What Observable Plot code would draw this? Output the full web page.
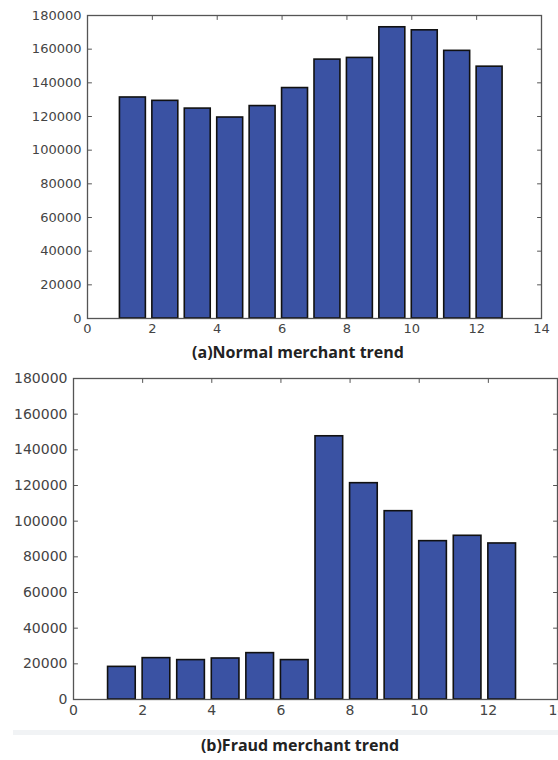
<!DOCTYPE html>
<html><head><meta charset="utf-8">
<script src="https://cdn.jsdelivr.net/npm/d3@7"></script>
<script src="https://cdn.jsdelivr.net/npm/@observablehq/plot@0.6"></script>
<style>
body{margin:0;background:#fff;width:558px;height:760px;overflow:hidden;position:relative;font-family:"DejaVu Sans",sans-serif}
#c1,#c2{position:absolute;left:0}
#c1{top:0px;width:558px}
#c2{top:360px;width:570px}
.cap{position:absolute;font-family:"Open Sans",Lato,sans-serif;font-weight:bold;font-size:16px;color:#222;white-space:nowrap;transform:translate(-50%,-50%)}
.band{position:absolute;left:13px;top:723px;width:545px;height:12px;background:#f1f3f5}
</style></head><body>
<div class="band"></div>
<div id="c1"></div>
<div id="c2"></div>
<div class="cap" style="left:298px;top:352px">(a)Normal merchant trend</div>
<div class="cap" style="left:300px;top:745px">(b)Fraud merchant trend</div>
<script>
const months = [1, 2, 3, 4, 5, 6, 7, 8, 9, 10, 11, 12];
const normalCounts = [131300, 129300, 124700, 119400, 126200, 136900, 153800, 154800, 173000, 171200, 159000, 149600];
const fraudCounts = [18300, 23200, 22100, 23000, 26000, 22100, 147600, 121300, 105600, 88800, 91800, 87500];
const xTicks = [0, 2, 4, 6, 8, 10, 12, 14];
const yTicks = [0, 20000, 40000, 60000, 80000, 100000, 120000, 140000, 160000, 180000];
const barWidth = 0.8;

const line = {draw(context, l) { context.moveTo(0, 0); context.lineTo(0, -l); }};

function chart(values, o) {
  const data = months.map((m, i) => ({m, v: values[i]}));
  const tk = {length: 4, anchor: "start", stroke: "#555", strokeWidth: 1, shape: line};
  return Plot.plot({
    width: o.width, height: o.height,
    marginLeft: o.ml, marginRight: o.mr, marginTop: o.mt, marginBottom: o.mb,
    style: {fontFamily: "DejaVu Sans, sans-serif", fontSize: o.fs + "px", color: "#444", background: "white", overflow: "visible", maxWidth: "none"},
    x: {domain: [0, 14], ticks: xTicks, tickSize: 0, tickPadding: o.xpad, label: null},
    y: {domain: [0, 180000], ticks: yTicks, tickSize: 0, tickPadding: o.ypad, label: null, tickFormat: d => String(d)},
    marks: [
      Plot.vector(yTicks, {...tk, x: 0, y: d => d, rotate: 90}),
      Plot.vector(yTicks, {...tk, x: 14, y: d => d, rotate: -90}),
      Plot.vector(xTicks, {...tk, x: d => d, y: 180000, rotate: 180}),
      Plot.vector(xTicks, {...tk, x: d => d, y: 0, rotate: 0}),
      Plot.rectY(data, {x1: "m", x2: d => d.m + barWidth, y: "v", fill: "#3a52a3", stroke: "#111", strokeWidth: 1.6}),
      Plot.frame({stroke: "#555", strokeWidth: 1.3})
    ]
  });
}

document.getElementById("c1").appendChild(chart(normalCounts, {width: 558, height: 340, ml: 87, mr: 17, mt: 15, mb: 22, fs: 13, xpad: 5, ypad: 6}));
document.getElementById("c2").appendChild(chart(fraudCounts, {width: 570, height: 370, ml: 73, mr: 13, mt: 18, mb: 31, fs: 14, xpad: 6, ypad: 6}));
</script>
</body></html>
